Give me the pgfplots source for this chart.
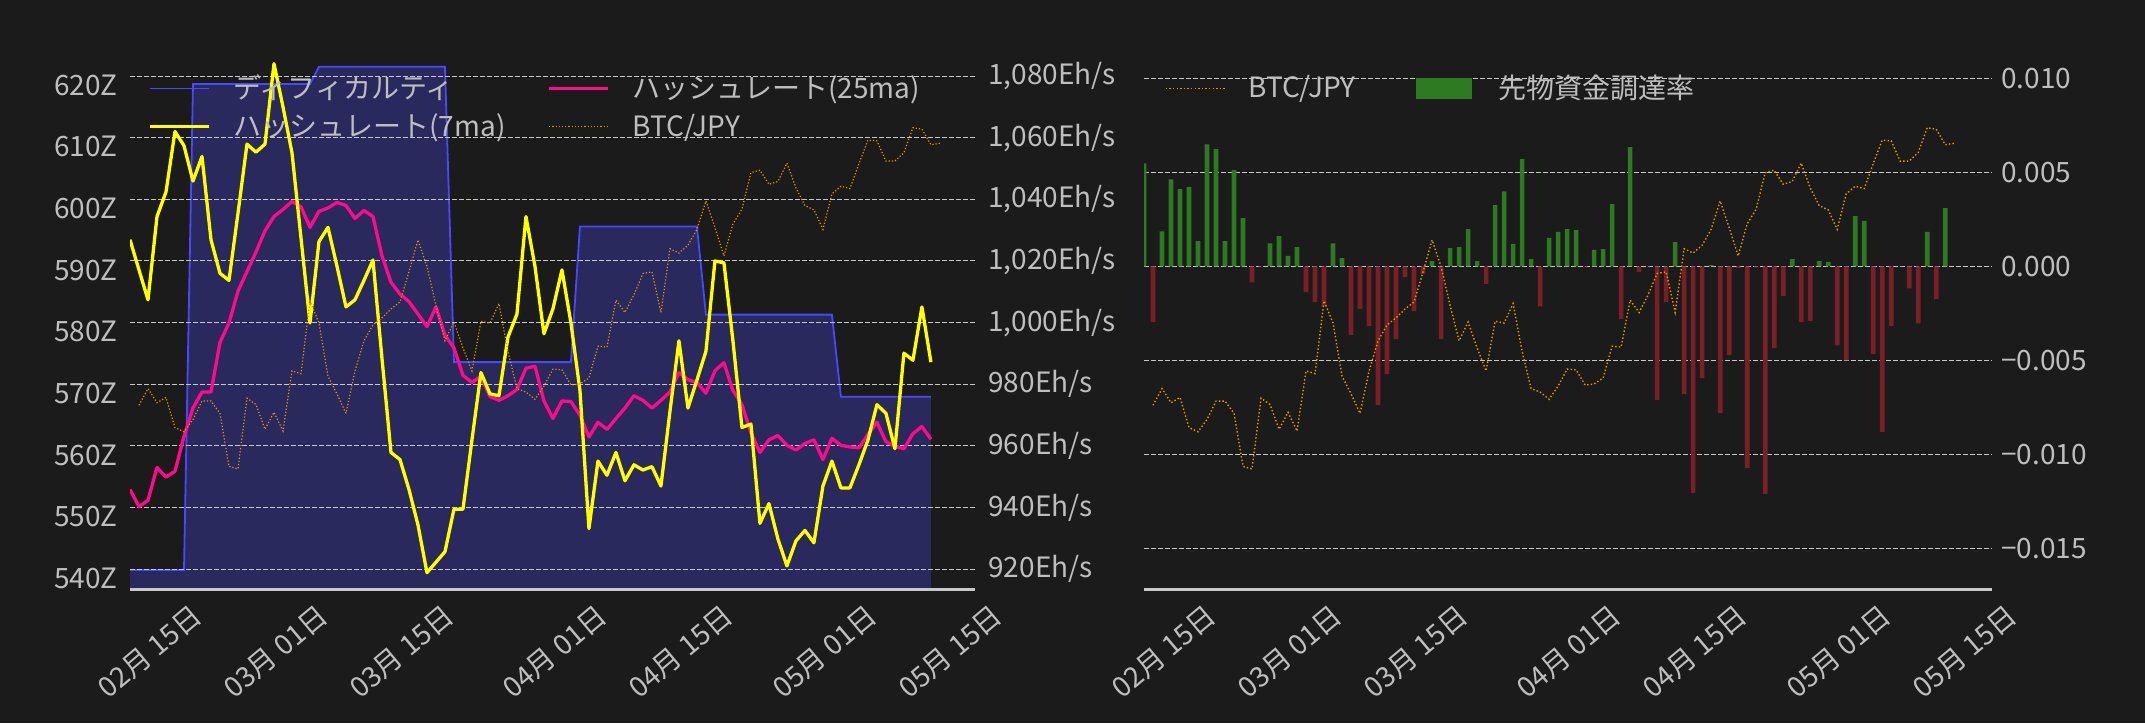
\documentclass[border=0pt]{standalone}
\usepackage{fontspec}
\setmainfont{Noto Sans CJK JP}
\usepackage{pgfplots}
\pgfplotsset{compat=1.18}
\usepackage{pgfplotstable}

\definecolor{bg}{RGB}{27,27,27}
\definecolor{txt}{RGB}{190,190,190}
\definecolor{gridc}{RGB}{200,200,200}
\definecolor{axline}{RGB}{200,200,200}
\definecolor{diffc}{RGB}{72,72,255}
\definecolor{fillc}{RGB}{42,41,94}
\definecolor{hr7}{RGB}{255,255,0}
\definecolor{hr25}{RGB}{255,10,140}
\definecolor{btc}{RGB}{230,150,0}
\definecolor{fpos}{RGB}{46,122,34}
\definecolor{fneg}{RGB}{122,31,38}

\newcommand\lbl{\fontsize{14pt}{16.5pt}\selectfont}

% day index 0 = first day of the series
\pgfplotstableread{
i diff h7 h25
0 539.9 1026.9 945.9
1 539.9 1017.1 940.3
2 539.9 1007.4 942.4
3 539.9 1034.4 953.0
4 539.9 1042.4 949.9
5 539.9 1062.0 951.8
6 539.9 1057.4 963.1
7 618.7 1045.9 972.3
8 618.7 1053.9 977.5
9 618.7 1026.9 977.5
10 618.7 1016.0 993.6
11 618.7 1013.7 999.9
12 618.7 1035.5 1010.2
13 618.7 1057.9 1016.6
14 618.7 1055.3 1022.9
15 618.7 1057.9 1029.8
16 618.7 1084.0 1034.4
17 618.7 1070.0 1036.7
18 618.7 1055.1 1039.3
19 618.7 1027.5 1037.6
20 618.7 999.9 1030.9
21 621.5 1026.3 1036.1
22 621.5 1030.9 1037.2
23 621.5 1018.3 1039.0
24 621.5 1005.1 1038.0
25 621.5 1007.4 1033.8
26 621.5 1013.7 1036.4
27 621.5 1020.3 1034.4
28 621.5 988.4 1021.7
29 621.5 957.9 1013.1
30 621.5 955.6 1009.3
31 621.5 945.9 1006.8
32 621.5 934.4 1002.8
33 621.5 918.9 998.7
34 621.5 922.3 1005.1
35 621.5 925.7 995.9
36 573.6 939.5 991.8
37 573.6 939.5 982.9
38 573.6 962.0 980.6
39 573.6 983.8 982.6
40 573.6 976.9 976.0
41 573.6 976.3 974.8
42 573.6 995.3 976.3
43 573.6 1002.8 978.3
44 573.6 1034.4 985.2
45 573.6 1018.3 985.9
46 573.6 996.4 974.6
47 573.6 1004.5 968.9
48 573.6 1017.1 974.6
49 573.6 999.9 974.4
50 595.6 978.0 970.0
51 595.6 933.2 962.9
52 595.6 955.1 967.7
53 595.6 950.5 965.4
54 595.6 957.9 968.9
55 595.6 948.7 972.3
56 595.6 953.9 976.3
57 595.6 952.2 974.8
58 595.6 953.3 972.3
59 595.6 947.0 974.8
60 595.6 971.2 977.5
61 595.6 994.1 983.8
62 595.6 972.3 981.5
63 595.6 981.4 980.6
64 581.3 990.7 977.1
65 581.3 1020.0 984.4
66 581.3 1019.4 987.0
67 581.3 994.1 978.0
68 581.3 966.0 973.4
69 581.3 967.1 964.3
70 581.3 934.9 957.9
71 581.3 941.3 962.0
72 581.3 929.8 963.4
73 581.3 921.1 960.2
74 581.3 929.2 958.7
75 581.3 932.6 960.8
76 581.3 928.6 962.0
77 581.3 947.0 955.6
78 581.3 955.1 962.5
79 568.0 946.4 960.2
80 568.0 946.4 959.7
81 568.0 953.9 959.4
82 568.0 961.9 963.7
83 568.0 973.4 967.7
84 568.0 970.6 961.4
85 568.0 959.1 959.9
86 568.0 990.1 959.1
87 568.0 987.8 964.0
88 568.0 1005.1 966.3
89 568.0 987.2 962.2
}\hashdata

\pgfplotstableread{
x btc
1 1353.3
2 1367.2
3 1355.4
4 1359.8
5 1334.6
6 1331.1
7 1341.4
8 1356.8
9 1356.8
10 1346.5
11 1302.1
12 1300.0
13 1359.2
14 1353.9
15 1333.2
16 1347.4
17 1331.7
18 1382.0
19 1379.7
20 1440.6
21 1422.0
22 1377.6
23 1362.8
24 1346.5
25 1382.0
26 1407.2
27 1420.5
28 1426.4
29 1433.8
30 1439.7
31 1464.9
32 1491.5
33 1469.3
34 1436.8
35 1407.2
36 1422.9
37 1401.3
38 1382.0
39 1423.5
40 1422.0
41 1438.3
42 1398.3
43 1367.2
44 1364.3
45 1358.3
46 1369.3
47 1383.5
48 1382.9
49 1370.2
50 1371.1
51 1376.1
52 1402.7
53 1401.9
54 1441.2
55 1430.9
56 1445.7
57 1463.5
58 1464.9
59 1430.9
60 1484.2
61 1480.6
62 1487.1
63 1500.4
64 1524.1
65 1501.9
66 1478.2
67 1504.9
68 1517.3
69 1547.8
70 1549.9
71 1538.1
72 1540.4
73 1555.8
74 1535.1
75 1520.3
76 1516.7
77 1500.4
78 1530.0
79 1536.5
80 1534.5
81 1555.2
82 1575.0
83 1574.4
84 1557.5
85 1557.5
86 1564.6
87 1585.4
88 1584.2
89 1571.2
90 1572.4
}\btcdata

\pgfplotstableread{
i rate
0 0.00548
1 -0.00297
2 0.00186
3 0.00463
4 0.00410
5 0.00422
6 0.00134
7 0.00649
8 0.00623
9 0.00134
10 0.00512
11 0.00256
12 -0.00085
13 -0.00005
14 0.00122
15 0.00160
16 0.00055
17 0.00102
18 -0.00137
19 -0.00190
20 -0.00213
21 0.00122
22 0.00043
23 -0.00365
24 -0.00228
25 -0.00318
26 -0.00738
27 -0.00574
28 -0.00388
29 -0.00058
30 -0.00239
31 -0.00041
32 0.00028
33 -0.00388
34 0.00096
35 0.00102
36 0.00198
37 0.00028
38 -0.00094
39 0.00326
40 0.00399
41 0.00119
42 0.00570
43 0.00038
44 -0.00213
45 0.00151
46 0.00183
47 0.00198
48 0.00192
49 -0.00006
50 0.00087
51 0.00092
52 0.00331
53 -0.00280
54 0.00634
55 -0.00030
56 -0.00002
57 -0.00712
58 -0.00190
59 0.00128
60 -0.00680
61 -0.01207
62 -0.00595
63 0.00006
64 -0.00781
65 -0.00473
66 -0.00008
67 -0.01073
68 -0.00006
69 -0.01212
70 -0.00435
71 -0.00158
72 0.00038
73 -0.00297
74 -0.00292
75 0.00028
76 0.00023
77 -0.00420
78 -0.00501
79 0.00267
80 0.00241
81 -0.00467
82 -0.00881
83 -0.00318
84 0.00000
85 -0.00117
86 -0.00303
87 0.00183
88 -0.00175
89 0.00309
}\funddata

\pgfplotsset{
  panel/.style={
    scale only axis, width=422.5pt, height=272pt, anchor=south west,
    xmin=0, xmax=93.9,
    major tick length=0pt, tick style={draw=none},
    ticklabel style={text=txt, font=\lbl},
    grid style={gridc, line width=0.5pt, dash pattern=on 2.5pt off 1pt},
  },
  dates/.style={
    xtick={2.6,16.6,30.6,47.6,61.6,77.6,91.6},
    xticklabels={02月 15日,03月 01日,03月 15日,04月 01日,04月 15日,05月 01日,05月 15日},
    xticklabel style={xshift=18pt, yshift=-6.35pt, rotate=40, anchor=north east, inner sep=0pt},
  },
  leg/.style={
    legend columns=2, legend cell align=left,
    legend image code/.code={\draw[##1] (0pt,0pt) -- (29.5pt,0pt); \path (41pt,0pt);},
    legend style={at={(rel axis cs:0,1)}, anchor=north west, draw=none, fill=none,
      inner sep=0pt, outer sep=0pt, row sep=6pt, column sep=0pt, font=\lbl,
      nodes={inner sep=0pt, text=txt}},
  },
}

\begin{document}
\begin{tikzpicture}
\fill[bg] (0,0) rectangle (1072.5pt,361.5pt);

% ---- left panel: difficulty
\begin{axis}[panel, dates, at={(65pt,67pt)},
  ymin=536.805, ymax=625.028,
  axis x line*=bottom, axis y line*=left,
  x axis line style={-, draw=axline, line width=1.5pt},
  y axis line style={draw=none},
  axis on top,
  ytick={540,550,...,620},
  yticklabels={540Z,550Z,560Z,570Z,580Z,590Z,600Z,610Z,620Z},
  yticklabel style={anchor=east, inner sep=0pt, xshift=-6pt, yshift=-4.5pt},
]
\addplot[fill=fillc, draw=none] table[x=i, y=diff]{\hashdata} \closedcycle;
\addplot[diffc, line width=0.9pt] table[x=i, y=diff]{\hashdata};
\end{axis}

% ---- left panel: hashrate
\begin{axis}[panel, at={(65pt,67pt)},
  ymin=913.61, ymax=1090.056,
  hide x axis, axis y line*=right, y axis line style={draw=none},
  ytick={920,940,...,1080},
  yticklabels={920Eh/s,940Eh/s,960Eh/s,980Eh/s,{1,000Eh/s},{1,020Eh/s},{1,040Eh/s},{1,060Eh/s},{1,080Eh/s}},
  yticklabel style={anchor=west, inner sep=0pt, xshift=6.5pt},
  ymajorgrids,
]
\addplot[hr25, line width=1.65pt, line join=round] table[x=i, y=h25]{\hashdata};
\addplot[hr7, line width=1.65pt, line join=round] table[x=i, y=h7]{\hashdata};
\end{axis}

% ---- left panel: BTC/JPY (hidden scale)
\begin{axis}[panel, leg, at={(65pt,67pt)},
  ymin=1199.6, ymax=1654.6, hide axis,
  legend style={xshift=9.3pt, yshift=-15pt},
]
\addplot[btc, line width=0.6pt, dash pattern=on 0.6pt off 1pt, forget plot] table[x=x, y=btc]{\btcdata};
\addlegendimage{diffc, line width=0.9pt}
\addlegendentry{\makebox[156.8pt][l]{ディフィカルティ}}
\addlegendimage{hr25, line width=1.65pt}
\addlegendentry{ハッシュレート(25ma)}
\addlegendimage{hr7, line width=1.65pt}
\addlegendentry{\makebox[156.8pt][l]{ハッシュレート(7ma)}}
\addlegendimage{btc, line width=0.6pt, dash pattern=on 0.6pt off 1pt}
\addlegendentry{BTC/JPY}
\end{axis}

% ---- right panel: funding rate
\begin{axis}[panel, dates, at={(572pt,67pt)}, width=424pt, xmax=94.2,
  ymin=-0.017165, ymax=0.011771,
  axis x line*=bottom, axis y line*=right,
  x axis line style={-, draw=axline, line width=1.5pt},
  y axis line style={draw=none},
  scaled y ticks=false,
  ytick={-0.015,-0.010,-0.005,0,0.005,0.010},
  yticklabels={−0.015,−0.010,−0.005,0.000,0.005,0.010},
  yticklabel style={anchor=west, inner sep=0pt, xshift=4.5pt},
  ymajorgrids,
]
\addplot[ybar, bar width=0.52, bar shift=0pt, fill=fpos, draw=none,
  restrict y to domain=0:1] table[x=i, y=rate]{\funddata};
\addplot[ybar, bar width=0.52, bar shift=0pt, fill=fneg, draw=none,
  restrict y to domain=-1:0] table[x=i, y=rate]{\funddata};
\end{axis}

% ---- right panel: BTC/JPY (hidden scale)
\begin{axis}[panel, leg, at={(572pt,67pt)}, width=424pt, xmax=94.2,
  ymin=1199.6, ymax=1654.6, hide axis,
  legend style={xshift=10.5pt, yshift=-15pt},
]
\addplot[btc, line width=0.7pt, dash pattern=on 0.7pt off 1.1pt, forget plot] table[x=x, y=btc]{\btcdata};
\addlegendimage{btc, line width=0.7pt, dash pattern=on 0.7pt off 1.1pt}
\addlegendentry{\makebox[84pt][l]{BTC/JPY}}
\addlegendimage{legend image code/.code={\fill[fpos] (0pt,-5pt) rectangle (27.5pt,5pt); \path (40.5pt,0pt);}}
\addlegendentry{先物資金調達率}
\end{axis}

\pgfresetboundingbox
\path[use as bounding box] (0,0) rectangle (1072.5pt,361.5pt);
\end{tikzpicture}
\end{document}
